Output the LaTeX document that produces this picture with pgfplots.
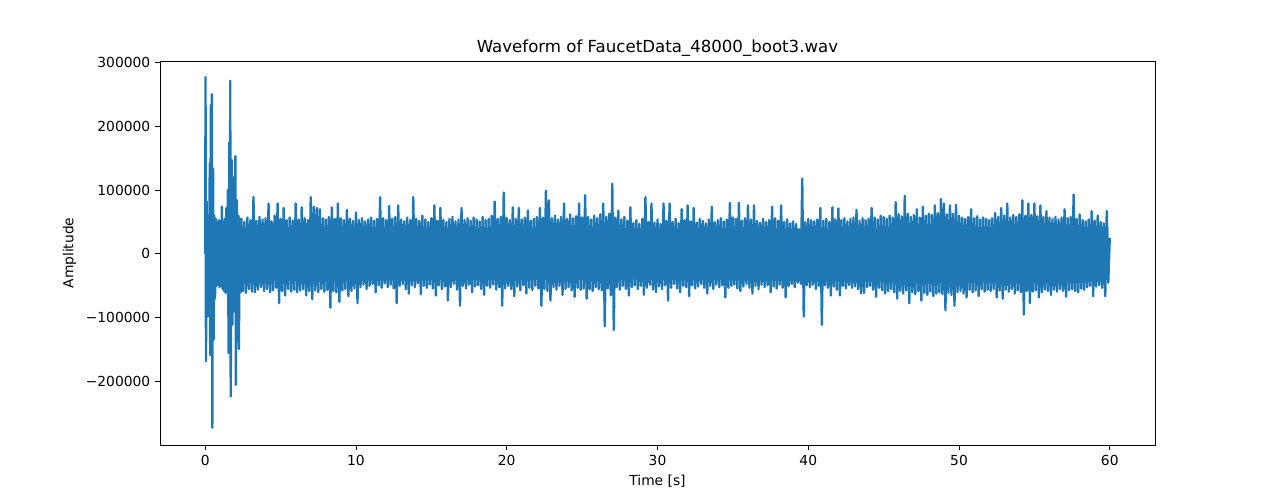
\documentclass[border=0pt]{standalone}
\usepackage{fontspec}
\setmainfont{DejaVu Sans}
\usepackage{pgfplots}
\pgfplotsset{compat=1.18}
\definecolor{mplblue}{HTML}{1F77B4}
\begin{document}
\begin{tikzpicture}
\path[use as bounding box] (-1.60in,-0.55in) rectangle (11.23in,4.45in);
\begin{axis}[
  at={(0,0)}, anchor=south west,
  scale only axis, width=9.95in, height=3.84in,
  xmin=-3, xmax=63, ymin=-299000, ymax=302000,
  xtick={0,10,20,30,40,50,60},
  ytick={-200000,-100000,0,100000,200000,300000},
  yticklabels={−200000,−100000,0,100000,200000,300000},
  scaled y ticks=false,
  /pgf/number format/assume math mode=true,
  tick align=outside, major tick length=3.5pt,
  tick style={black, line width=0.7pt},
  axis line style={line width=0.7pt},
  xtick pos=bottom, ytick pos=left,
  ticklabel style={font=\fontsize{10}{12}\selectfont},
  xlabel={Time [s]}, ylabel={Amplitude},
  label style={font=\fontsize{10}{12}\selectfont},
  title={Waveform of FaucetData\_48000\_boot3.wav},
  title style={font=\fontsize{12}{14}\selectfont, yshift=-6pt},
]
% dense core of the signal
\addplot[fill=mplblue, draw=none, no marks] coordinates {
(0.6,42000)(10,42000)(28,40000)(45,40000)(58,44000)(59.9,40000)
(59.9,-40000)(58,-46000)(45,-44000)(28,-40000)(10,-42000)(0.6,-42000)
} -- cycle;
\addplot[mplblue, line width=1.7pt, line join=round, no marks] coordinates {
(0,0)(0.02,277000)(0.05,-168000)(0.1,82000)(0.15,-98000)(0.2,60000)(0.25,-90000)(0.3,142000)(0.33,-158000)(0.37,233000)(0.4,-120000)(0.44,250000)(0.47,-272000)(0.52,134000)(0.56,-134000)(0.6,60000)(0.65,-70000)(0.7,55000)(0.75,-50000)(0.8,50000)(0.85,-48000)(0.9,53000)(0.95,-52000)(1.0,52000)(1.05,-50000)(1.1,74000)(1.15,-55000)(1.2,50000)(1.25,-58000)(1.3,55000)(1.35,-61000)(1.4,72000)(1.45,-60000)(1.5,100000)(1.55,-155000)(1.6,175000)(1.63,-100000)(1.66,271000)(1.69,-223000)(1.75,147000)(1.8,-111000)(1.85,120000)(1.9,-90000)(2.0,153000)(2.03,-205000)(2.1,84000)(2.15,-70000)(2.2,60000)(2.23,-149000)(2.3,55000)(2.35,-60000)
(2.4,55000)(2.5,-58000)(2.6,50000)(2.7,-61000)(2.8,57000)(2.9,-55000)
(3.0,53000)(3.1,-59000)(3.2,89000)(3.3,-60000)(3.4,52000)(3.5,-56000)(3.6,58000)(3.7,-52000)(3.8,54000)(3.9,-58000)
(4.0,56000)(4.1,-55000)(4.2,79000)(4.3,-60000)(4.4,51000)(4.5,-57000)(4.6,60000)(4.7,-53000)(4.8,79000)(4.9,-77000)
(5.0,55000)(5.1,-58000)(5.2,72000)(5.3,-65000)(5.4,53000)(5.5,-55000)(5.6,57000)(5.7,-59000)(5.8,52000)(5.9,-56000)
(6.0,79000)(6.1,-60000)(6.2,54000)(6.3,-57000)(6.4,73000)(6.5,-55000)(6.6,56000)(6.7,-65000)(6.8,53000)(6.9,-58000)
(7.0,89000)(7.1,-71000)(7.2,74000)(7.3,-57000)(7.4,72000)(7.5,-60000)(7.6,70000)(7.7,-55000)(7.8,56000)(7.9,-59000)
(8.0,54000)(8.1,-56000)(8.2,58000)(8.3,-84000)(8.4,73000)(8.5,-58000)(8.6,55000)(8.7,-60000)(8.8,79000)(8.9,-75000)
(9.0,56000)(9.1,-57000)(9.2,53000)(9.3,-55000)(9.4,69000)(9.5,-66000)(9.6,55000)(9.7,-58000)(9.8,52000)(9.9,-54000)
(10.0,65000)(10.1,-77000)(10.2,53000)(10.3,-52000)(10.4,56000)(10.5,-48000)(10.6,51000)(10.7,-55000)(10.8,54000)(10.9,-50000)
(11.0,57000)(11.1,-47000)(11.2,52000)(11.3,-60000)(11.4,55000)(11.5,-49000)(11.6,89000)(11.7,-53000)(11.8,56000)(11.9,-46000)
(12.0,53000)(12.1,-52000)(12.2,75000)(12.3,-48000)(12.4,55000)(12.5,-54000)(12.6,58000)(12.7,-77000)(12.8,76000)(12.9,-50000)
(13.0,54000)(13.1,-47000)(13.2,51000)(13.3,-55000)(13.4,57000)(13.5,-62000)(13.6,53000)(13.7,-49000)(13.8,89000)(13.9,-52000)
(14.0,55000)(14.1,-46000)(14.2,52000)(14.3,-63000)(14.4,60000)(14.5,-50000)(14.6,54000)(14.7,-53000)(14.8,50000)(14.9,-48000)
(15.0,56000)(15.1,-54000)(15.2,76000)(15.3,-65000)(15.4,52000)(15.5,-49000)(15.6,72000)(15.7,-55000)(15.8,53000)(15.9,-51000)
(16.0,50000)(16.1,-73000)(16.2,55000)(16.3,-52000)(16.4,58000)(16.5,-47000)(16.6,51000)(16.7,-56000)(16.8,54000)(16.9,-81000)
(17.0,72000)(17.1,-50000)(17.2,53000)(17.3,-54000)(17.4,56000)(17.5,-48000)(17.6,52000)(17.7,-60000)(17.8,57000)(17.9,-51000)
(18.0,54000)(18.1,-49000)(18.2,51000)(18.3,-55000)(18.4,58000)(18.5,-64000)(18.6,53000)(18.7,-50000)(18.8,55000)(18.9,-53000)
(19.0,60000)(19.1,-48000)(19.2,82000)(19.3,-56000)(19.4,55000)(19.5,-52000)(19.6,58000)(19.7,-81000)(19.8,96000)(19.9,-54000)
(20.0,56000)(20.1,-50000)(20.2,53000)(20.3,-55000)(20.4,73000)(20.5,-66000)(20.6,55000)(20.7,-51000)(20.8,72000)(20.9,-57000)
(21.0,54000)(21.1,-49000)(21.2,57000)(21.3,-62000)(21.4,68000)(21.5,-53000)(21.6,52000)(21.7,-56000)(21.8,55000)(21.9,-50000)
(22.0,58000)(22.1,-54000)(22.2,72000)(22.3,-81000)(22.4,57000)(22.5,-55000)(22.6,99000)(22.7,-58000)(22.8,84000)(22.9,-73000)
(23.0,56000)(23.1,-52000)(23.2,60000)(23.3,-56000)(23.4,54000)(23.5,-50000)(23.6,58000)(23.7,-64000)(23.8,79000)(23.9,-55000)
(24.0,55000)(24.1,-52000)(24.2,62000)(24.3,-57000)(24.4,56000)(24.5,-67000)(24.6,59000)(24.7,-53000)(24.8,79000)(24.9,-56000)
(25.0,57000)(25.1,-54000)(25.2,92000)(25.3,-70000)(25.4,58000)(25.5,-55000)(25.6,54000)(25.7,-58000)(25.8,60000)(25.9,-52000)
(26.0,56000)(26.1,-55000)(26.2,62000)(26.3,-57000)(26.4,79000)(26.5,-113000)(26.6,58000)(26.7,-54000)(26.8,63000)(26.9,-65000)
(27.0,110000)(27.1,-119000)(27.2,57000)(27.3,-52000)(27.4,68000)(27.5,-56000)(27.6,54000)(27.7,-50000)(27.8,58000)(27.9,-55000)
(28.0,52000)(28.1,-65000)(28.2,73000)(28.3,-52000)(28.4,48000)(28.5,-49000)(28.6,53000)(28.7,-55000)(28.8,47000)(28.9,-50000)
(29.0,55000)(29.1,-64000)(29.2,89000)(29.3,-53000)(29.4,50000)(29.5,-48000)(29.6,79000)(29.7,-56000)(29.8,49000)(29.9,-60000)
(30.0,54000)(30.1,-51000)(30.2,47000)(30.3,-55000)(30.4,79000)(30.5,-49000)(30.6,52000)(30.7,-73000)(30.8,79000)(30.9,-53000)
(31.0,50000)(31.1,-47000)(31.2,55000)(31.3,-54000)(31.4,48000)(31.5,-60000)(31.6,70000)(31.7,-50000)(31.8,53000)(31.9,-52000)
(32.0,76000)(32.1,-66000)(32.2,51000)(32.3,-49000)(32.4,72000)(32.5,-54000)(32.6,49000)(32.7,-51000)(32.8,55000)(32.9,-47000)
(33.0,52000)(33.1,-53000)(33.2,48000)(33.3,-62000)(33.4,54000)(33.5,-50000)(33.6,74000)(33.7,-55000)(33.8,50000)(33.9,-48000)
(34.0,53000)(34.1,-52000)(34.2,56000)(34.3,-49000)(34.4,51000)(34.5,-68000)(34.6,54000)(34.7,-53000)(34.8,80000)(34.9,-50000)
(35.0,57000)(35.1,-48000)(35.2,55000)(35.3,-54000)(35.4,80000)(35.5,-58000)(35.6,52000)(35.7,-51000)(35.8,56000)(35.9,-47000)
(36.0,76000)(36.1,-53000)(36.2,54000)(36.3,-62000)(36.4,76000)(36.5,-50000)(36.6,52000)(36.7,-55000)(36.8,49000)(36.9,-48000)
(37.0,55000)(37.1,-52000)(37.2,50000)(37.3,-49000)(37.4,53000)(37.5,-60000)(37.6,74000)(37.7,-51000)(37.8,56000)(37.9,-54000)
(38.0,52000)(38.1,-48000)(38.2,76000)(38.3,-53000)(38.4,50000)(38.5,-68000)(38.6,54000)(38.7,-50000)(38.8,48000)(38.9,-47000)
(39.0,51000)(39.1,-52000)(39.2,47000)(39.3,-45000)(39.4,36000)(39.5,-47000)(39.6,118000)(39.7,-98000)(39.8,50000)(39.9,-49000)
(40.0,55000)(40.1,-52000)(40.2,53000)(40.3,-48000)(40.4,51000)(40.5,-55000)(40.6,54000)(40.7,-50000)(40.8,72000)(40.9,-111000)
(41.0,52000)(41.1,-49000)(41.2,55000)(41.3,-53000)(41.4,50000)(41.5,-65000)(41.6,73000)(41.7,-51000)(41.8,54000)(41.9,-56000)
(42.0,71000)(42.1,-65000)(42.2,53000)(42.3,-50000)(42.4,56000)(42.5,-54000)(42.6,51000)(42.7,-49000)(42.8,55000)(42.9,-53000)
(43.0,57000)(43.1,-51000)(43.2,69000)(43.3,-55000)(43.4,52000)(43.5,-62000)(43.6,56000)(43.7,-61000)(43.8,53000)(43.9,-52000)
(44.0,55000)(44.1,-50000)(44.2,72000)(44.3,-56000)(44.4,57000)(44.5,-67000)(44.6,54000)(44.7,-53000)(44.8,60000)(44.9,-57000)
(45.0,58000)(45.1,-62000)(45.2,55000)(45.3,-58000)(45.4,60000)(45.5,-55000)(45.6,57000)(45.7,-60000)(45.8,81000)(45.9,-70000)
(46.0,62000)(46.1,-58000)(46.2,59000)(46.3,-62000)(46.4,91000)(46.5,-57000)(46.6,63000)(46.7,-77000)(46.8,58000)(46.9,-60000)
(47.0,61000)(47.1,-63000)(47.2,70000)(47.3,-58000)(47.4,57000)(47.5,-73000)(47.6,74000)(47.7,-61000)(47.8,60000)(47.9,-64000)
(48.0,63000)(48.1,-59000)(48.2,61000)(48.3,-66000)(48.4,76000)(48.5,-62000)(48.6,64000)(48.7,-60000)(48.8,86000)(48.9,-63000)
(49.0,79000)(49.1,-88000)(49.2,62000)(49.3,-61000)(49.4,76000)(49.5,-64000)(49.6,63000)(49.7,-81000)(49.8,77000)(49.9,-60000)
(50.0,60000)(50.1,-58000)(50.2,57000)(50.3,-62000)(50.4,55000)(50.5,-68000)(50.6,58000)(50.7,-56000)(50.8,70000)(50.9,-60000)
(51.0,56000)(51.1,-57000)(51.2,59000)(51.3,-66000)(51.4,54000)(51.5,-55000)(51.6,57000)(51.7,-59000)(51.8,55000)(51.9,-56000)
(52.0,53000)(52.1,-58000)(52.2,56000)(52.3,-55000)(52.4,64000)(52.5,-68000)(52.6,58000)(52.7,-57000)(52.8,72000)(52.9,-70000)
(53.0,60000)(53.1,-56000)(53.2,79000)(53.3,-59000)(53.4,57000)(53.5,-55000)(53.6,61000)(53.7,-62000)(53.8,58000)(53.9,-57000)
(54.0,62000)(54.1,-60000)(54.2,84000)(54.3,-95000)(54.4,60000)(54.5,-58000)(54.6,79000)(54.7,-77000)(54.8,61000)(54.9,-59000)
(55.0,79000)(55.1,-57000)(55.2,59000)(55.3,-68000)(55.4,76000)(55.5,-60000)(55.6,58000)(55.7,-56000)(55.8,67000)(55.9,-58000)
(56.0,57000)(56.1,-64000)(56.2,55000)(56.3,-56000)(56.4,58000)(56.5,-59000)(56.6,54000)(56.7,-55000)(56.8,57000)(56.9,-58000)
(57.0,70000)(57.1,-67000)(57.2,56000)(57.3,-57000)(57.4,58000)(57.5,-55000)(57.6,93000)(57.7,-58000)(57.8,55000)(57.9,-60000)
(58.0,62000)(58.1,-54000)(58.2,53000)(58.3,-56000)(58.4,51000)(58.5,-52000)(58.6,54000)(58.7,-50000)(58.8,67000)(58.9,-66000)
(59.0,52000)(59.1,-51000)(59.2,60000)(59.3,-49000)(59.4,50000)(59.5,-53000)(59.6,48000)(59.7,-66000)(59.8,67000)(59.9,-45000)
(60.0,25000)
};
\end{axis}
\end{tikzpicture}
\end{document}
